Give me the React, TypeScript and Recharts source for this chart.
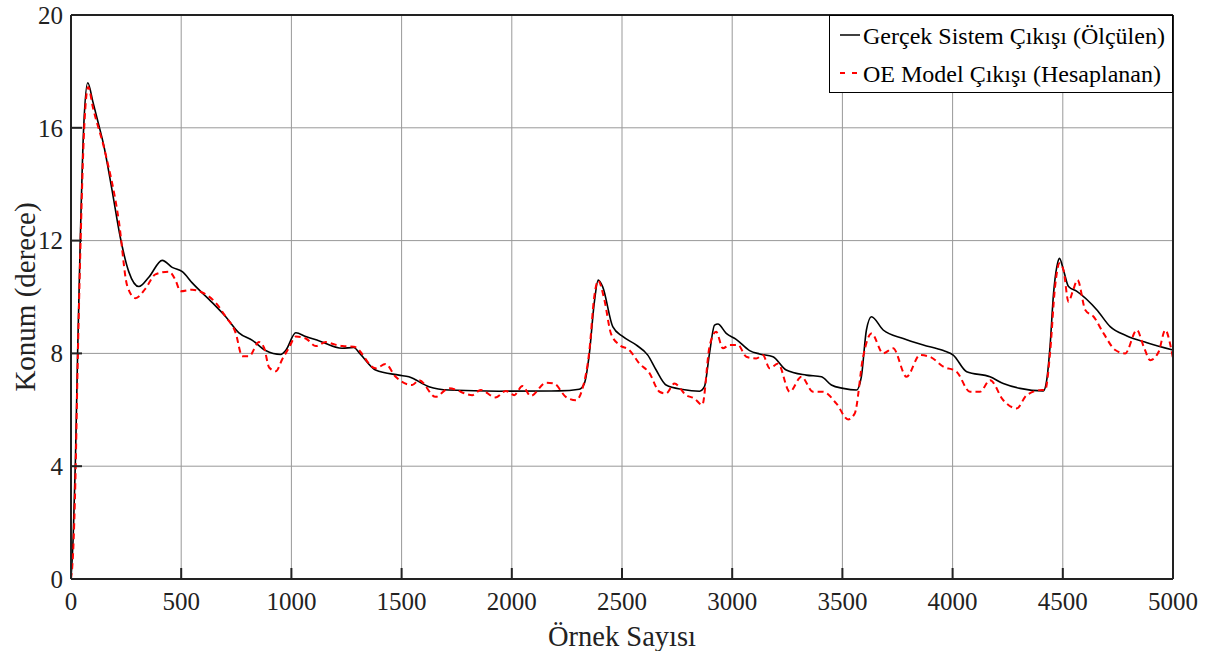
import React from 'react';
import { LineChart, Line, XAxis, YAxis, CartesianGrid, Legend, Label } from 'recharts';

const xTicks = [0, 500, 1000, 1500, 2000, 2500, 3000, 3500, 4000, 4500, 5000];
const yTicks = [0, 4, 8, 12, 16, 20];

const measuredX = [0, 10, 20, 30, 42, 58, 76, 100, 126, 148, 186, 224, 262, 308, 353, 414, 459, 505, 550, 641, 702, 762, 823, 883, 952, 974, 1020, 1065, 1124, 1230, 1283, 1310, 1382, 1488, 1533, 1624, 1715, 1942, 2215, 2306, 2329, 2352, 2374, 2392, 2412, 2458, 2503, 2564, 2617, 2655, 2700, 2776, 2852, 2874, 2897, 2920, 2935, 2973, 3018, 3079, 3124, 3185, 3245, 3336, 3405, 3450, 3503, 3564, 3586, 3609, 3632, 3685, 3776, 3867, 3958, 4003, 4064, 4170, 4230, 4306, 4412, 4427, 4442, 4458, 4473, 4485, 4503, 4526, 4564, 4655, 4715, 4791, 4882, 5000];
const measuredY = [0, 1.5, 4.2, 8, 12.0, 16.1, 17.6, 16.9, 16.1, 15.4, 13.8, 12.1, 10.9, 10.37, 10.7, 11.3, 11.05, 10.9, 10.5, 9.8, 9.3, 8.73, 8.46, 8.1, 7.96, 8.1, 8.73, 8.6, 8.45, 8.18, 8.21, 8.0, 7.41, 7.23, 7.17, 6.82, 6.7, 6.66, 6.67, 6.73, 6.93, 8.0, 9.78, 10.6, 10.37, 8.95, 8.6, 8.3, 7.94, 7.41, 6.88, 6.72, 6.66, 6.82, 8.0, 9.0, 9.04, 8.71, 8.5, 8.1, 7.98, 7.88, 7.41, 7.23, 7.17, 6.88, 6.76, 6.7, 7.17, 8.83, 9.3, 8.83, 8.53, 8.3, 8.1, 7.94, 7.35, 7.17, 6.93, 6.76, 6.67, 7.05, 8.24, 10.13, 11.08, 11.37, 10.96, 10.37, 10.2, 9.54, 8.95, 8.62, 8.38, 8.12];

const modelX = [0, 10, 20, 30, 42, 60, 78, 100, 156, 217, 255, 292, 338, 383, 444, 474, 497, 550, 595, 656, 702, 747, 777, 808, 853, 876, 899, 929, 959, 989, 1020, 1065, 1111, 1156, 1190, 1232, 1283, 1382, 1427, 1473, 1548, 1579, 1654, 1715, 1821, 1859, 1927, 1973, 2011, 2048, 2086, 2155, 2192, 2245, 2291, 2321, 2352, 2374, 2392, 2420, 2450, 2488, 2533, 2579, 2624, 2670, 2700, 2738, 2791, 2829, 2864, 2897, 2927, 2958, 2988, 3026, 3064, 3109, 3139, 3170, 3208, 3261, 3314, 3367, 3412, 3473, 3526, 3556, 3594, 3632, 3685, 3730, 3791, 3852, 3897, 3958, 4018, 4079, 4124, 4170, 4230, 4291, 4336, 4405, 4420, 4442, 4465, 4485, 4503, 4526, 4545, 4567, 4602, 4640, 4685, 4738, 4783, 4836, 4867, 4897, 4935, 4965, 4988, 5000];
const modelY = [0, 1.0, 3.5, 7.5, 11.5, 16.0, 17.45, 16.7, 15.1, 12.7, 10.4, 9.96, 10.3, 10.8, 10.9, 10.6, 10.2, 10.26, 10.16, 9.8, 9.3, 8.73, 7.9, 7.9, 8.4, 8.2, 7.5, 7.37, 7.8, 8.2, 8.6, 8.53, 8.26, 8.4, 8.33, 8.26, 8.24, 7.47, 7.62, 7.17, 6.88, 7.05, 6.46, 6.76, 6.52, 6.7, 6.44, 6.67, 6.52, 6.84, 6.49, 6.96, 6.93, 6.46, 6.34, 6.76, 8.1, 10.0, 10.58, 9.9, 8.7, 8.3, 8.12, 7.64, 7.31, 6.64, 6.58, 6.93, 6.52, 6.4, 6.17, 8.24, 8.77, 8.18, 8.3, 8.3, 7.88, 7.82, 7.94, 7.47, 7.64, 6.64, 7.17, 6.64, 6.64, 6.22, 5.66, 5.87, 7.88, 8.71, 8.0, 8.18, 7.17, 7.94, 7.88, 7.53, 7.35, 6.64, 6.64, 7.05, 6.34, 6.05, 6.52, 6.7, 6.7, 8.0, 10.37, 11.2, 10.96, 9.83, 10.2, 10.6, 9.54, 9.3, 8.71, 8.12, 8.0, 8.83, 8.24, 7.76, 8.06, 8.83, 8.3, 7.82];

const seriesNames = ['Gerçek Sistem Çıkışı (Ölçülen)', 'OE Model Çıkışı (Hesaplanan)'];

const measuredData = measuredX.map((x, i) => ({ x, y: measuredY[i] }));
const modelData = modelX.map((x, i) => ({ x, y: modelY[i] }));

const FONT = '"Liberation Serif", "Times New Roman", serif';

const renderLegend = () => (
  <div style={{ width: 344, height: 78, boxSizing: 'border-box', border: '1px solid #000', background: '#fff' }}>
    <svg width={342} height={76} style={{ display: 'block' }}>
      <line x1={10} x2={30} y1={19} y2={19} stroke="#000" strokeWidth={1.5} />
      <text x={33} y={28} fontFamily={FONT} fontSize={24} fill="#000">{seriesNames[0]}</text>
      <line x1={10} x2={28} y1={57} y2={57} stroke="#ff0000" strokeWidth={2} strokeDasharray="5 7" />
      <text x={33} y={66} fontFamily={FONT} fontSize={24} fill="#000">{seriesNames[1]}</text>
    </svg>
  </div>
);

export default function App() {
  const tickStyle = { fontFamily: FONT, fontSize: 25, fill: '#222' };
  return (
    <div style={{ position: 'absolute', left: 0, top: 0, width: 1211, height: 651, background: '#fff' }}>
      <LineChart width={1211} height={651} margin={{ top: 14, right: 37, left: 0, bottom: 0 }}>
        <CartesianGrid stroke="#999999" strokeWidth={1} horizontalValues={yTicks} verticalValues={xTicks} />
        <XAxis
          xAxisId={0}
          type="number"
          dataKey="x"
          domain={[0, 5000]}
          ticks={xTicks}
          height={72}
          allowDataOverflow
          axisLine={{ stroke: '#222', strokeWidth: 2 }}
          tickLine={{ stroke: '#222', strokeWidth: 2 }}
          tickSize={-11}
          tickMargin={24}
          tick={tickStyle}
          interval={0}
        >
          <Label
            content={({ viewBox }: any) => (
              <text x={viewBox.x + viewBox.width / 2} y={viewBox.y + 67} textAnchor="middle" fontFamily={FONT} fontSize={28.5} fill="#222">
                Örnek Sayısı
              </text>
            )}
          />
        </XAxis>
        <XAxis
          xAxisId="top"
          orientation="top"
          type="number"
          dataKey="x"
          domain={[0, 5000]}
          ticks={xTicks}
          height={1}
          allowDataOverflow
          axisLine={{ stroke: '#222', strokeWidth: 2 }}
          tickLine={{ stroke: '#222', strokeWidth: 2 }}
          tickSize={-11}
          tick={false}
          interval={0}
        />
        <YAxis
          yAxisId={0}
          type="number"
          domain={[0, 20]}
          ticks={yTicks}
          width={71}
          allowDataOverflow
          axisLine={{ stroke: '#222', strokeWidth: 2 }}
          tickLine={{ stroke: '#222', strokeWidth: 2 }}
          tickSize={-11}
          tickMargin={19}
          tick={tickStyle}
          interval={0}
        >
          <Label
            content={({ viewBox }: any) => {
              const cx = viewBox.x + 25;
              const cy = viewBox.y + viewBox.height / 2;
              return (
                <text x={cx} y={cy} transform={`rotate(-90 ${cx} ${cy})`} textAnchor="middle" dominantBaseline="central" fontFamily={FONT} fontSize={29} fill="#222">
                  Konum (derece)
                </text>
              );
            }}
          />
        </YAxis>
        <YAxis
          yAxisId="right"
          orientation="right"
          type="number"
          domain={[0, 20]}
          ticks={yTicks}
          width={1}
          allowDataOverflow
          axisLine={{ stroke: '#222', strokeWidth: 2 }}
          tickLine={{ stroke: '#222', strokeWidth: 2 }}
          tickSize={-11}
          tick={false}
          interval={0}
        />
        <Line
          data={measuredData}
          dataKey="y"
          name={seriesNames[0]}
          type="monotone"
          stroke="#000"
          strokeWidth={1.6}
          dot={false}
          isAnimationActive={false}
        />
        <Line
          data={modelData}
          dataKey="y"
          name={seriesNames[1]}
          type="monotone"
          stroke="#ff0000"
          strokeWidth={2}
          strokeDasharray="6 4"
          dot={false}
          isAnimationActive={false}
        />
        <Legend
          layout="vertical"
          align="center"
          verticalAlign="middle"
          wrapperStyle={{ top: 15, left: 829, width: 344, height: 78 }}
          content={renderLegend}
        />
      </LineChart>
    </div>
  );
}
